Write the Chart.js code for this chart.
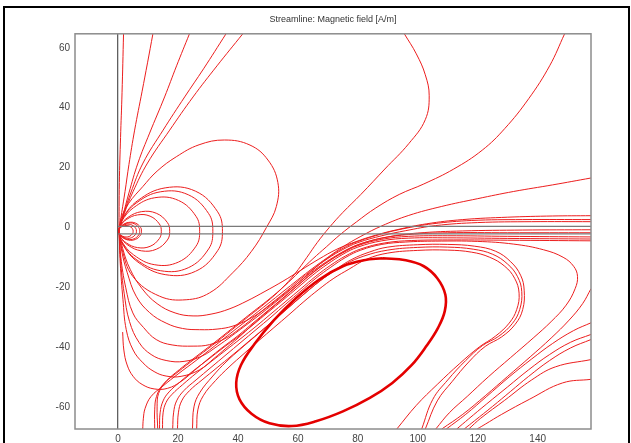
<!DOCTYPE html>
<html>
<head>
<meta charset="utf-8">
<title>Streamline: Magnetic field</title>
<script src="https://cdn.jsdelivr.net/npm/chart.js@4.4.1/dist/chart.umd.min.js"></script>
<style>
  html, body { margin: 0; padding: 0; background: #fff; }
  body { width: 631px; height: 443px; overflow: hidden; position: relative; }
  #frame { position: absolute; left: 3px; top: 6px; width: 623px; height: 460px; border: 2px solid #000; border-bottom: none; }
  #plot { position: absolute; left: 0; top: 0; }
</style>
</head>
<body>
<div id="frame"></div>
<canvas id="plot" width="631" height="443"></canvas>
<script>
// axis extents and tick labels
const xRange = [-14.4, 157.8];
const yRange = [-67.4, 64.7];
const xTickValues = [0, 20, 40, 60, 80, 100, 120, 140];
const yTickValues = [-60, -40, -20, 0, 20, 40, 60];

// geometry edges (plate)
const plateLines = [
    [[0, 0.3], [157.8, 0.3]],
    [[0, -2.2], [157.8, -2.2]]
];

// lines leaving the source upwards to the top edge
const fanUp = [
    [[1.8,64.7],[1.3,45],[0.8,30],[0.4,15],[0.3,-1]],
    [[11.6,64.7],[9.8,55],[8,45.5],[5.5,32.5],[3.6,21],[2.3,12],[1.2,5],[0.3,-1]],
    [[23.8,64.7],[19.5,54],[15.5,43.6],[10.5,31.5],[6.6,21.5],[3.6,11.5],[1.6,4],[0.3,-1]],
    [[36,64.7],[28.5,53],[22.2,43.6],[15,32.5],[8.3,21.5],[4.2,11.5],[1.7,4],[0.3,-1]],
    [[41.6,64.7],[33,54],[25,43.6],[17.2,32.5],[9.8,21.5],[5,12],[2,4.5],[0.3,-1]]
];

// closed loops around the source
const innerLoops = [
    [[0.2,-1.3],[0.2,-0.75],[0.95,0.05],[2.25,0.6],[3.7,0.45],[4.78,-0.45],[5,-1.3],[4.78,-2.15],[3.7,-3.05],[2.25,-3.2],[0.95,-2.65],[0.2,-1.85],[0.2,-1.3]],
    [[0.2,-1.3],[0.24,-0.63],[1.16,0.35],[2.75,1.02],[4.51,0.84],[5.83,-0.26],[6.1,-1.3],[5.83,-2.34],[4.51,-3.44],[2.75,-3.62],[1.16,-2.95],[0.24,-1.97],[0.2,-1.3]],
    [[0.2,-1.3],[0.29,-0.51],[1.37,0.64],[3.24,1.44],[5.33,1.22],[6.88,-0.08],[7.2,-1.3],[6.88,-2.52],[5.33,-3.82],[3.24,-4.04],[1.37,-3.24],[0.29,-2.09],[0.2,-1.3]],
    [[0.2,-1.3],[0.31,-0.44],[1.48,0.81],[3.51,1.66],[5.77,1.43],[7.45,0.03],[7.8,-1.3],[7.45,-2.63],[5.77,-4.03],[3.51,-4.26],[1.48,-3.41],[0.31,-2.16],[0.2,-1.3]],
    [[0.2,-1.3],[0.58,0.28],[2.74,2.59],[6.48,4.17],[10.66,3.74],[13.75,1.15],[14.4,-1.3],[13.75,-3.75],[10.66,-6.34],[6.48,-6.77],[2.74,-5.19],[0.58,-2.88],[0.2,-1.3]],
    [[0.2,-1.3],[0.69,0.59],[3.27,3.34],[7.74,5.24],[12.73,4.72],[16.43,1.62],[17.2,-1.3],[16.43,-4.22],[12.73,-7.32],[7.74,-7.84],[3.27,-5.94],[0.69,-3.19],[0.2,-1.3]],
    [[0.2,-1.3],[1.09,1.9],[5.17,6.6],[12.24,9.9],[20.13,9.0],[25.98,3.7],[27.2,-1.3],[25.98,-6.3],[20.13,-11.6],[12.24,-12.5],[5.17,-9.2],[1.09,-4.5],[0.2,-1.3]],
    [[0.2,-1.3],[1.26,2.5],[6.0,8.1],[14.2,11.9],[23.4,10.9],[30.2,4.6],[31.6,-1.3],[30.2,-7.2],[23.4,-13.5],[14.2,-14.5],[6.0,-10.7],[1.26,-5.1],[0.2,-1.3]],
    [[0.2,-1.3],[1.39,2.9],[6.6,9.0],[15.7,13.2],[25.8,12.1],[33.2,5.2],[34.8,-1.3],[33.2,-7.8],[25.8,-14.7],[15.7,-15.8],[6.6,-11.6],[1.39,-5.5],[0.2,-1.3]]
];

// large loop reaching y = 29
const bigLoop = [[0.3,-1],[1,3],[3.5,8],[8.2,13.6],[13,18.8],[19.4,23.6],[27,27.6],[35.5,29.2],[44,27.5],[50,22.5],[53.3,15],[52.8,7],[49.5,0],[44.5,-8],[38.2,-15.2],[30.5,-21.9],[22.7,-24.2],[13.8,-23],[4.9,-16.4],[1.2,-7],[0.3,-1]];

// lines from the source sweeping down, then up the diagonal bundle to the right edge
const lowerArcs = [
    [[0.3,-1],[1.5,-7],[4,-14],[8,-20.5],[13,-25.5],[19,-28.6],[25,-29.6],[31,-29],[37,-27.3],[43,-24.6],[49,-21.4],[55,-18],[61,-14.3],[67,-10.6],[73,-7.3],[79,-4.9],[86,-2.6],[93,-0.8],[103,1.2],[115,2.6],[130,3.4],[145,3.8],[157.8,3.9]],
    [[0.3,-1],[1.2,-8],[3,-15],[6,-23],[10.5,-28.5],[16,-32],[21.5,-33.8],[27.2,-34.2],[33,-34],[38.3,-33],[44,-30.5],[49.4,-27],[55,-22.6],[60.5,-18.2],[65,-14.2],[70,-10.2],[75,-7],[80,-4.7],[88,-2.2],[95,-0.5],[105,1.2],[118,2.3],[135,2.6],[157.8,2.6]],
    [[0.3,-1],[0.9,-10],[2.5,-20],[4.9,-28.6],[8.5,-33.5],[12.7,-37.5],[18,-39.3],[25,-39.7],[30.5,-39.2],[36,-37],[40,-34.3],[45,-30.4],[50,-26.3],[55,-22.3],[60,-18],[65,-14],[70,-10.4],[75,-7.4],[80,-5.1],[88,-2.8],[96,-1.1],[106,0.6],[120,1.6],[138,1.9],[157.8,1.9]],
    [[0.3,-1],[0.8,-11],[2,-22],[3.8,-31.5],[7,-38.5],[11,-42.5],[16,-44.5],[22,-44.8],[28,-43],[33,-39.8],[38,-36.2],[42,-33.2],[47,-29.4],[52,-25.4],[57,-21.3],[62,-17],[67,-13.2],[72,-9.9],[77,-7.1],[82,-5.1],[90,-3.2],[100,-1.9],[115,-1.2],[135,-0.9],[157.8,-0.8]],
    [[0.3,-1],[0.7,-12],[1.6,-24],[2.7,-34.2],[5,-41],[8.3,-45.3],[12,-48.2],[16,-49.7],[21,-49.8],[27.2,-47.6],[32,-43.8],[36,-40.4],[40,-37],[45,-32.4],[50,-28],[55,-23.8],[60,-19.4],[65,-15.2],[70,-11.5],[75,-8.3],[80,-5.9],[88,-3.6],[97,-2.4],[110,-1.8],[130,-1.8],[157.8,-1.8]],
    [[1.5,-35],[1.9,-41],[3,-46],[5,-49.8],[8,-52.5],[12,-54],[16.5,-53.8],[21,-51.5],[25.5,-47.8],[30,-44],[35,-40],[40,-36.2],[45,-32],[50,-27.8],[55,-23.6],[60,-19.3],[65,-15.1],[70,-11.5],[75,-8.5],[80,-6.1],[88,-4],[97,-3],[110,-2.8],[130,-3],[157.8,-3.2]]
];

// lines from the bottom edge up the bundle to the right edge
const bottomRisers = [
    [[13.8,-67.4],[14,-62],[15,-58],[17,-55],[20.5,-51.8],[25,-48],[30,-44.2],[35,-40.3],[40,-36.6],[45,-32.6],[50,-28.4],[55,-24.3],[60,-20.1],[65,-15.9],[70,-12.2],[75,-9],[80,-6.6],[88,-4.5],[97,-3.6],[110,-3.5],[130,-3.7],[157.8,-3.9]],
    [[14.8,-67.4],[15,-62],[16,-58.5],[18,-55.8],[21.5,-52.6],[26,-48.8],[31,-44.9],[36,-41],[41,-37.1],[46,-33.1],[51,-28.9],[56,-24.7],[61,-20.5],[66,-16.3],[71,-12.6],[76,-9.5],[81,-7.2],[89,-5.2],[98,-4.4],[112,-4.2],[130,-4.3],[157.8,-4.5]]
];

// lines from the top and right edges joining the bundle down to the bottom edge
const topDescenders = [
    [[149,64.7],[144,54],[137,43],[129,33],[121.5,25.8],[112,19.5],[102,14.5],[93.8,11],[86,6.5],[79.5,1.8],[74,-2.5],[69.5,-6.5],[65,-10.5],[60.5,-14.8],[55.5,-19.6],[50,-24.3],[44,-29],[38,-33.8],[32,-38.6],[26,-43.2],[20.5,-47.5],[16,-51.5],[13.5,-55.5],[13,-60],[13.2,-67.4]],
    [[95.5,64.7],[99.5,58],[102.5,51],[103.8,44],[102.5,36],[97,28],[89,19.5],[81,11],[75,5],[70.5,0],[66.5,-5],[63,-10],[59,-15.5],[54.5,-20.5],[49.5,-25],[43.5,-29.8],[37.5,-34.6],[31.5,-39.4],[25.5,-44],[20,-48.3],[15,-52.5],[12.8,-56.5],[12.2,-61],[12.2,-67.4]],
    [[157.8,16.5],[145,14.2],[132,12],[120,9.6],[108,7],[97,4],[88,0.5],[81,-3],[75,-6.5],[70,-10],[65,-13.6],[60,-17.5],[55,-21.5],[50,-25.5],[44,-30.3],[38,-35],[32,-39.8],[26,-44.5],[20,-49],[15,-53],[11,-56.5],[9,-60.5],[8.4,-64],[8.2,-67.4]]
];

// lines from the bottom edge that run along the plate, turn back and return to the bottom
const uTurns = [
    [[18.2,-67.4],[18.5,-62],[19.5,-58],[22,-54.5],[26,-51],[31,-46.8],[36,-42.6],[41,-38.4],[46,-34.2],[51,-30],[56,-25.6],[61,-21.3],[66,-17],[71,-13.3],[76,-10],[81,-7.6],[88,-5.7],[96,-4.9],[106,-4.6],[120,-4.7],[132,-5.6],[142,-7.5],[148.5,-10],[152,-13],[153.3,-16.4],[152.5,-20.5],[149.5,-26],[144.5,-31.5],[138.5,-37],[131,-43.5],[123.5,-50],[116.5,-56.5],[110.5,-62],[106,-67.4]],
    [[19.8,-67.4],[20.1,-62],[21.2,-58],[23.8,-54.6],[28,-51],[33,-46.9],[38,-42.8],[43,-38.6],[48,-34.4],[53,-30.1],[58,-25.8],[63,-21.5],[68,-17.4],[73,-13.8],[78,-10.7],[84,-8.2],[90,-6.6],[100,-5.8],[110,-5.7],[119,-6.3],[126,-8],[131,-11.5],[134.3,-16],[135.5,-21],[135,-27.5],[132.5,-32.4],[128,-36.6],[122.5,-39.8],[117,-45],[111.5,-51.5],[106.5,-58],[102.5,-67.4]],
    [[24.8,-67.4],[25.3,-60],[27.2,-55.3],[31.6,-49.7],[36,-45],[41,-40.5],[46,-36.2],[51,-31.9],[56,-27.6],[61,-23.2],[66,-19],[71,-15.3],[76,-12.2],[82,-9.6],[90,-7.6],[100,-6.7],[110,-6.6],[118.5,-7.3],[125,-9],[130,-12.3],[133.3,-16.5],[134.7,-21.5],[134,-27.5],[131.5,-32.2],[127,-36.4],[121.6,-39.5],[116,-44.5],[110,-51],[105,-57.5],[101.3,-67.4]],
    [[26.2,-67.4],[26.6,-61],[28.4,-56.3],[32.5,-51.2],[37,-46.7],[42,-42.2],[47,-37.8],[52,-33.5],[57,-29.2],[62,-24.8],[67,-20.7],[72,-17],[77,-14],[83,-10.6],[90,-8.6],[100,-7.7],[110,-7.6],[118,-8.3],[124,-10],[129,-13],[132.3,-17],[133.8,-22],[133,-27.5],[130.5,-32],[126,-36.3],[120.5,-40],[114,-45.5],[106.5,-52.5],[99.5,-59.5],[93,-67.4]]
];

// lines entering at the right edge and running down to the bottom edge
const rightDescenders = [
    [[157.8,-20.5],[155,-25.5],[150.5,-31],[144.5,-37],[137.5,-43.3],[130,-49.8],[122.5,-56.3],[115,-62.5],[108,-67.4]],
    [[157.8,-31.9],[152,-34.5],[145,-38.8],[138,-44],[130.5,-50],[123,-56.5],[116,-62.5],[109.5,-67.4]],
    [[157.8,-35.8],[151,-38.4],[144,-42.5],[137,-47.6],[130,-53.3],[123,-59],[117,-64],[113,-67.4]],
    [[157.8,-37.5],[151,-40.3],[144,-44.5],[137,-49.8],[131,-54.8],[125,-59.8],[119,-64.6],[115.5,-67.4]],
    [[157.8,-44.2],[146,-46.6],[138,-51],[129,-57.8],[121,-63.8],[117,-67.4]],
    [[157.8,-50.8],[148.3,-52],[137.2,-57.5],[128,-62.5],[122.5,-65.8],[119.8,-67.4]]
];

// closed loop below the plate (drawn thick)
const coreLoop = [[88.3,-10.3],[96,-11],[102,-13],[106.5,-17],[109.2,-22.5],[109,-28],[106.8,-33.5],[103,-39.5],[98,-46],[91.5,-52],[84,-57],[75,-61.5],[66,-64.8],[58,-66.4],[50.5,-65.5],[44.5,-62.3],[40.5,-57.5],[39.4,-52],[41,-46],[45.5,-39],[52,-31],[59,-24],[67,-17.5],[75,-13],[82,-11],[88.3,-10.3]];

const RED = 'rgb(236, 30, 30)';

function streamline(points, width, color) {
    return {
        data: points.map((p) => ({ x: p[0], y: p[1] })),
        showLine: true,
        borderColor: color,
        borderWidth: width,
        pointRadius: 0,
        pointHoverRadius: 0,
        tension: 0.4,
        fill: false
    };
}

let datasets = [];
plateLines.forEach((l) => datasets.push(streamline(l, 1.3, '#7a7a7a')));
datasets.push(streamline(coreLoop, 2.6, 'rgb(228, 0, 0)'));
[fanUp, innerLoops, [bigLoop], lowerArcs, bottomRisers, topDescenders, uTurns, rightDescenders].forEach((group) => {
    group.forEach((l) => datasets.push(streamline(l, 1, RED)));
});

const frameBox = {
    id: 'frameBox',
    afterDraw(chart) {
        let a = chart.chartArea;
        let ctx = chart.ctx;
        ctx.save();
        ctx.strokeStyle = '#8c8c8c';
        ctx.lineWidth = 1.5;
        ctx.strokeRect(a.left, a.top, a.right - a.left, a.bottom - a.top);
        ctx.restore();
    }
};

const tickFont = { family: "'Liberation Sans', Arial, sans-serif", size: 10 };

new Chart(document.getElementById('plot').getContext('2d'), {
    type: 'scatter',
    data: { datasets: datasets },
    options: {
        responsive: false,
        animation: false,
        devicePixelRatio: 1,
        layout: { padding: { left: 0, right: 40, top: 0, bottom: 0 } },
        plugins: {
            legend: { display: false },
            tooltip: { enabled: false },
            title: {
                display: true,
                fullSize: false,
                text: 'Streamline: Magnetic field [A/m]',
                color: '#333',
                font: { family: "'Liberation Sans', Arial, sans-serif", size: 9, weight: 'normal' },
                padding: { top: 14, bottom: 9 }
            }
        },
        scales: {
            x: {
                type: 'linear',
                min: xRange[0],
                max: xRange[1],
                afterBuildTicks: (s) => { s.ticks = xTickValues.map((v) => ({ value: v })); },
                afterFit: (s) => { s.height = 14; },
                border: { display: false },
                grid: {
                    drawTicks: false,
                    lineWidth: 1.3,
                    color: (ctx) => (ctx.tick && ctx.tick.value === 0) ? '#606060' : 'rgba(0,0,0,0)'
                },
                ticks: { color: '#444', font: tickFont, padding: 4, maxRotation: 0 }
            },
            y: {
                type: 'linear',
                min: yRange[0],
                max: yRange[1],
                afterBuildTicks: (s) => { s.ticks = yTickValues.map((v) => ({ value: v })); },
                afterFit: (s) => { s.width = 75; },
                border: { display: false },
                grid: { display: false, drawTicks: false },
                ticks: { color: '#444', font: tickFont, padding: 5 }
            }
        }
    },
    plugins: [frameBox]
});
</script>
</body>
</html>
